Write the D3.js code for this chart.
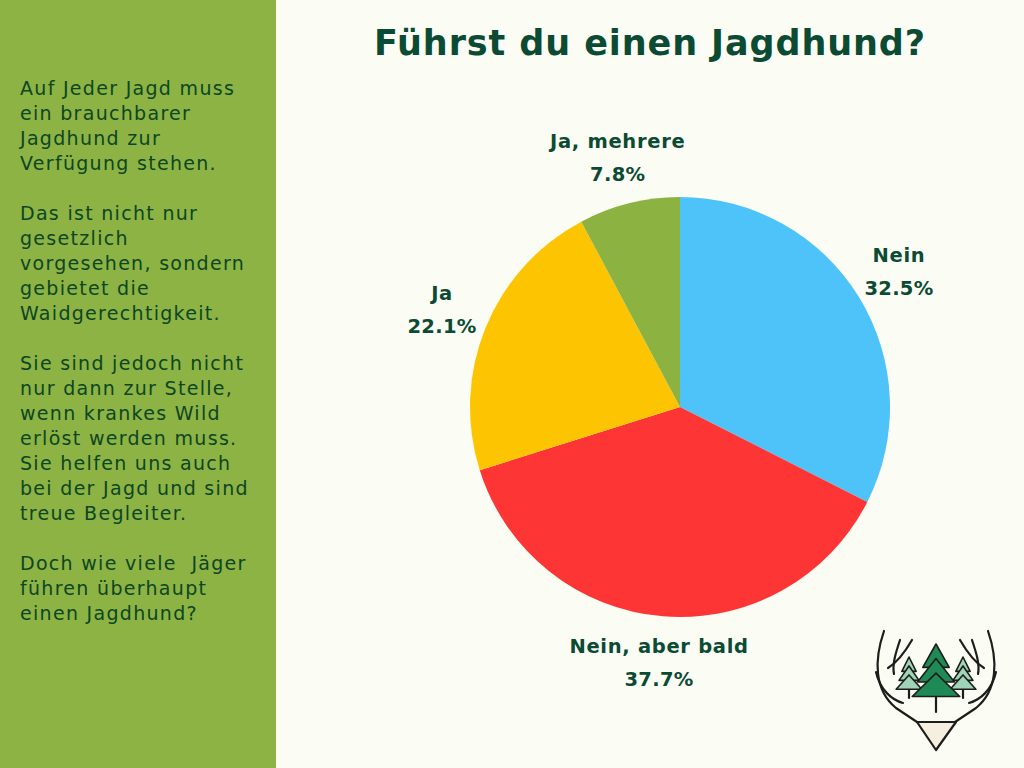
<!DOCTYPE html>
<html><head><meta charset="utf-8">
<script src="https://cdn.jsdelivr.net/npm/d3@7"></script>
<style>html,body{margin:0;padding:0;background:#fbfcf3;}svg{display:block;}</style>
</head><body>
<svg id="chart" width="1024" height="768"></svg>
<script>
const title = "Führst du einen Jagdhund?";
const categories = ["Nein", "Nein, aber bald", "Ja", "Ja, mehrere"];
const values = [32.5, 37.7, 22.1, 7.8];
const colors = ["#4dc3fa", "#fd3534", "#fdc501", "#8cb241"];
const sideText = [
  "Auf Jeder Jagd muss", "ein brauchbarer", "Jagdhund zur", "Verfügung stehen.", "",
  "Das ist nicht nur", "gesetzlich", "vorgesehen, sondern", "gebietet die", "Waidgerechtigkeit.", "",
  "Sie sind jedoch nicht", "nur dann zur Stelle,", "wenn krankes Wild", "erlöst werden muss.", "Sie helfen uns auch",
  "bei der Jagd und sind", "treue Begleiter.", "",
  "Doch wie viele  Jäger", "führen überhaupt", "einen Jagdhund?"
];

const svg = d3.select("#chart");
const W = 1024, H = 768;
const font = "'DejaVu Sans', sans-serif";
svg.append("rect").attr("width", W).attr("height", H).attr("fill", "#fbfcf3");
svg.append("rect").attr("width", 276).attr("height", H).attr("fill", "#8db344");

// side text
svg.append("g").selectAll("text").data(sideText).join("text")
  .attr("x", 20).attr("y", (d, i) => 95 + i * 25)
  .attr("font-family", font).attr("font-size", 19).attr("letter-spacing", 1.3)
  .attr("fill", "#0c4622")
  .attr("xml:space", "preserve")
  .text(d => d);

// title
svg.append("text").attr("x", 650).attr("y", 55).attr("text-anchor", "middle")
  .attr("font-family", font).attr("font-weight", "bold").attr("font-size", 35)
  .attr("letter-spacing", 0.9)
  .attr("fill", "#0b4a33").text(title);

// pie
const cx = 680, cy = 407, R = 210, LR = 257;
const pie = d3.pie().sort(null).value(d => d);
const arcs = pie(values);
const arc = d3.arc().innerRadius(0).outerRadius(R);
const g = svg.append("g").attr("transform", `translate(${cx},${cy})`);
g.selectAll("path").data(arcs).join("path")
  .attr("d", arc).attr("fill", (d, i) => colors[i]);

const lab = g.selectAll("g.lab").data(arcs).join("g").attr("class", "lab")
  .attr("transform", d => {
    const a = (d.startAngle + d.endAngle) / 2;
    return `translate(${Math.sin(a) * LR},${-Math.cos(a) * LR})`;
  });
lab.append("text").attr("y", -10).attr("text-anchor", "middle")
  .attr("font-family", font).attr("font-weight", "bold").attr("font-size", 19.5)
  .attr("letter-spacing", 0.7)
  .attr("fill", "#0b4a33").text((d, i) => categories[i]);
lab.append("text").attr("y", 23).attr("text-anchor", "middle")
  .attr("font-family", font).attr("font-weight", "bold").attr("font-size", 19.5)
  .attr("letter-spacing", 0.3)
  .attr("fill", "#0b4a33").text(d => d3.format(".1f")(d.data) + "%");

// logo
const logo = svg.append("g").attr("fill", "none").attr("stroke", "#1d1d1b")
  .attr("stroke-width", 2.2).attr("stroke-linecap", "round").attr("stroke-linejoin", "round");
const antL = [
  "M884,631 C874,660 874,690 896,708 L917,722",
  "M876,672 C880,690 892,700 903,703",
  "M900,640 C896,652 892,664 894,674",
  "M912,640 C905,652 898,662 888,668"
];
antL.forEach(p => {
  logo.append("path").attr("d", p);
  logo.append("path").attr("d", p).attr("transform", "translate(1872,0) scale(-1,1)");
});
logo.append("line").attr("x1", 936).attr("y1", 695).attr("x2", 936).attr("y2", 712);
logo.append("line").attr("x1", 909).attr("y1", 688).attr("x2", 909).attr("y2", 698);
logo.append("line").attr("x1", 963).attr("y1", 688).attr("x2", 963).attr("y2", 698);
function tree(x, top, w, h, fill) {
  const tiers = 3;
  for (let k = 0; k < tiers; k++) {
    const t = top + k * h * 0.28, b = t + h * 0.45, ww = w * (0.55 + 0.22 * k);
    logo.append("path").attr("d", `M${x},${t} L${x + ww / 2},${b} L${x - ww / 2},${b} Z`)
      .attr("fill", fill).attr("stroke-width", 1.6);
  }
}
tree(909, 657, 26, 32, "#9fd4b8");
tree(963, 657, 26, 32, "#9fd4b8");
tree(936, 644, 48, 52, "#1f8a55");
logo.append("path").attr("d", "M917,722 L956,722 L936,750 Z").attr("fill", "#f6efe0");
</script>
</body></html>
